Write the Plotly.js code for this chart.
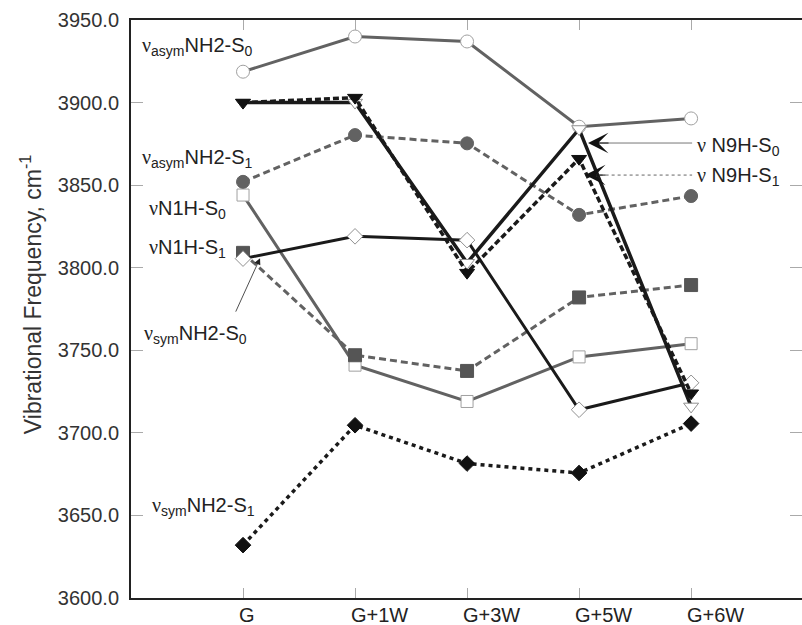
<!DOCTYPE html>
<html>
<head>
<meta charset="utf-8">
<script src="https://cdn.plot.ly/plotly-3.0.1.min.js"></script>
<style>html,body{margin:0;padding:0;background:#fff;}#chart{width:802px;height:625px;}</style>
</head>
<body>
<div id="chart"></div>
<script>
// ---- data ----
const categories = ['G', 'G+1W', 'G+3W', 'G+5W', 'G+6W'];
const asymS0 = [3918.7, 3940.0, 3937.0, 3885.4, 3890.4];
const asymS1 = [3852.0, 3880.3, 3875.3, 3832.0, 3843.4];
const n1hS0  = [3844.0, 3741.0, 3719.0, 3746.0, 3754.0];
const n1hS1  = [3809.0, 3747.0, 3737.5, 3782.0, 3789.5];
const symS0  = [3805.5, 3819.0, 3816.7, 3714.0, 3730.3];
const symS1  = [3632.0, 3704.6, 3681.4, 3675.7, 3705.6];
const n9hS0  = [3900.0, 3900.0, 3803.0, 3884.0, 3716.0];
const n9hS1  = [3900.0, 3903.0, 3797.0, 3866.0, 3724.0];
const yTicks = [3600, 3650, 3700, 3750, 3800, 3850, 3900, 3950];

const NU = '<span style="font-family:Liberation Serif">ν</span>';
const GRAY = '#626262', BLACK = '#1a1a1a';
const FONT = 'Liberation Sans, Arial, sans-serif';

function tr(y, lineColor, dash, width, symbol, fill, outline, size) {
  return {
    x: categories, y: y, type: 'scatter', mode: 'lines+markers', showlegend: false,
    line: {color: lineColor, dash: dash, width: width},
    marker: {symbol: symbol, color: fill, size: size, line: {color: outline, width: 1}},
    hoverinfo: 'skip'
  };
}

const data = [
  tr(n1hS0, GRAY, 'solid', 3, 'square', '#ffffff', '#a0a0a0', 12),
  tr(asymS0, GRAY, 'solid', 3, 'circle', '#ffffff', '#a0a0a0', 13),
  tr(asymS1, GRAY, '7px,4px', 3, 'circle', '#626262', '#626262', 13),
  tr(n1hS1, GRAY, '7px,4px', 3, 'square', '#555555', '#555555', 13),
  tr(symS1, BLACK, '4px,4px', 3.5, 'diamond', '#111111', '#111111', 12),
  tr(symS0, BLACK, 'solid', 3, 'diamond', '#ffffff', '#909090', 12),
  tr(n9hS0, BLACK, 'solid', 3.5, 'triangle-down', '#ffffff', '#909090', 13),
  tr(n9hS1, BLACK, '6px,3px', 3.5, 'triangle-down', '#111111', '#111111', 13)
];

const txtFont = {family: FONT, size: 20, color: '#222'};

// series labels
const labelText = [
  NU + '<sub>asym</sub>NH2-S<sub>0</sub>',
  NU + '<sub>asym</sub>NH2-S<sub>1</sub>',
  NU + 'N1H-S<sub>0</sub>',
  NU + 'N1H-S<sub>1</sub>',
  NU + '<sub>sym</sub>NH2-S<sub>0</sub>',
  NU + '<sub>sym</sub>NH2-S<sub>1</sub>',
  NU + ' N9H-S<sub>0</sub>',
  NU + ' N9H-S<sub>1</sub>'
];
const labelX = [-0.92, -0.92, -0.857, -0.857, -0.902, -0.83, 4.036, 4.036];
const labelY = [3934, 3866, 3835, 3811.5, 3759.5, 3655.5, 3873.5, 3855];

const annotations = [];
labelText.forEach((t, i) => annotations.push({
  x: labelX[i], y: labelY[i], xref: 'x', yref: 'y', text: t, showarrow: false,
  xanchor: 'left', yanchor: 'middle', font: txtFont
}));

// x tick labels, left aligned at the ticks as in the reference
categories.forEach((c, i) => annotations.push({
  x: i, y: 0, xref: 'x', yref: 'paper', text: c, showarrow: false,
  xanchor: 'left', yanchor: 'top', xshift: -6, yshift: -4, font: txtFont
}));

// y axis title
annotations.push({
  x: -0.149, y: 0.524, xref: 'paper', yref: 'paper', textangle: -90,
  text: 'Vibrational Frequency, cm<sup>-1</sup>', showarrow: false,
  xanchor: 'center', yanchor: 'middle', font: {family: FONT, size: 23, color: '#333'}
});

// arrow pointing at the νsym NH2-S0 start
annotations.push({x: 0.152, y: 3805.8, ax: -0.071, ay: 3772.5, axref: 'x', ayref: 'y', xref: 'x', yref: 'y',
  text: '', showarrow: true, arrowhead: 2, arrowsize: 1.6, arrowwidth: 0.8, arrowcolor: '#222'});
// arrowheads for the N9H labels (the leader lines are shapes below)
annotations.push({x: 3.08, y: 3875.5, ax: 22, ay: 0, xref: 'x', yref: 'y',
  text: '', showarrow: true, arrowhead: 3, arrowsize: 3.4, arrowwidth: 1, arrowcolor: '#111'});
annotations.push({x: 3.054, y: 3856.1, ax: 22, ay: 0, xref: 'x', yref: 'y',
  text: '', showarrow: true, arrowhead: 3, arrowsize: 3.4, arrowwidth: 1, arrowcolor: '#111'});

const shapes = [
  {type: 'line', xref: 'x', yref: 'y', x0: 3.15, x1: 4.009, y0: 3875.5, y1: 3875.5,
   line: {color: '#777', width: 1}},
  {type: 'line', xref: 'x', yref: 'y', x0: 3.13, x1: 4.009, y0: 3856.1, y1: 3856.1,
   line: {color: '#666', width: 1, dash: 'dot'}}
];

const layout = {
  width: 802, height: 625,
  margin: {l: 131, r: 0, t: 20, b: 27, pad: 0},
  paper_bgcolor: '#ffffff', plot_bgcolor: '#ffffff',
  showlegend: false,
  xaxis: {
    type: 'category', range: [-1, 4.99], showgrid: false, zeroline: false,
    showline: true, linecolor: '#222', linewidth: 2, mirror: 'ticks',
    ticks: 'inside', ticklen: 10, tickcolor: '#aaa', tickwidth: 1,
    showticklabels: false, fixedrange: true
  },
  yaxis: {
    range: [3600, 3950], tickvals: yTicks, tickformat: '.1f', showgrid: false, zeroline: false,
    showline: true, linecolor: '#222', linewidth: 2, mirror: 'ticks',
    ticks: 'inside', ticklen: 12, tickcolor: '#aaa', tickwidth: 1,
    ticklabelstandoff: 6,
    tickfont: {family: FONT, size: 20, color: '#333'},
    fixedrange: true
  },
  annotations: annotations,
  shapes: shapes
};

Plotly.newPlot('chart', data, layout, {staticPlot: true, displayModeBar: false});
</script>
</body>
</html>
